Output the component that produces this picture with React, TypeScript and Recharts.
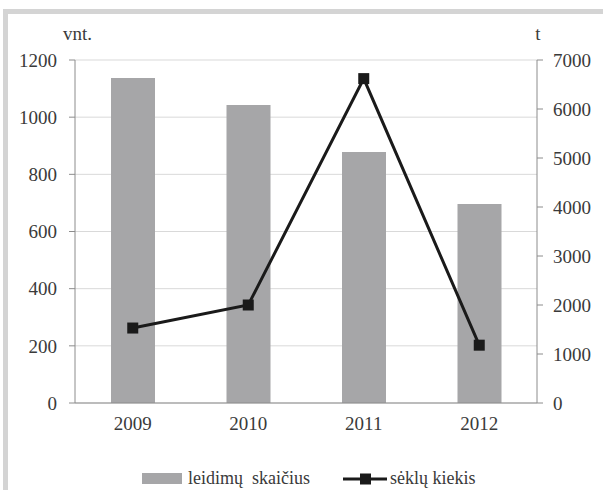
import {
  ComposedChart,
  Bar,
  Line,
  XAxis,
  YAxis,
  CartesianGrid,
  Legend,
} from "recharts";

const years = ["2009", "2010", "2011", "2012"];
const leidimuSkaicius = [1137, 1043, 878, 696];
const lekluKiekis = [1530, 2000, 6620, 1180];
const leftTicks = [0, 200, 400, 600, 800, 1000, 1200];
const rightTicks = [0, 1000, 2000, 3000, 4000, 5000, 6000, 7000];
const boundaryTicks = [0, 1, 2, 3, 4];

const data = years.map((year, i) => ({
  year,
  leidimai: leidimuSkaicius[i],
  seklos: lekluKiekis[i],
}));

const FONT = "'Liberation Serif', 'Times New Roman', serif";
const TEXT = "#3a3a3a";
const AXIS = "#8c8c8c";

const SquareDot = (props: any) => {
  const { cx, cy } = props;
  if (cx == null || cy == null) return null;
  return <rect x={cx - 5.5} y={cy - 5.5} width={11} height={11} fill="#1a1a1a" />;
};

const LegendContent = () => (
  <div
    style={{
      display: "flex",
      alignItems: "center",
      marginLeft: 142,
      fontFamily: FONT,
      fontSize: 18,
      color: TEXT,
    }}
  >
    <span style={{ display: "inline-block", width: 40, height: 11, background: "#a6a6a8" }} />
    <span style={{ marginLeft: 6 }}>leidimų&nbsp; skaičius</span>
    <svg width={44} height={14} style={{ marginLeft: 33 }}>
      <line x1={0} y1={7} x2={44} y2={7} stroke="#1a1a1a" strokeWidth={3} />
      <rect x={17} y={1.5} width={11} height={11} fill="#1a1a1a" />
    </svg>
    <span style={{ marginLeft: 3 }}>sėklų kiekis</span>
  </div>
);

export default function App() {
  return (
    <div
      style={{
        position: "absolute",
        left: 0,
        top: 0,
        width: 603,
        height: 490,
        background: "#fff",
        overflow: "hidden",
      }}
    >
      <div
        style={{
          position: "absolute",
          left: 3,
          top: 9,
          width: 600,
          height: 481,
          borderTop: "5px solid #d4d4d4",
          borderLeft: "5px solid #d4d4d4",
          boxSizing: "border-box",
        }}
      />
      <div style={{ position: "absolute", left: 0, top: 0 }}>
        <ComposedChart
          width={603}
          height={490}
          data={data}
          margin={{ top: 60, right: 0, bottom: 57, left: 0 }}
        >
          <CartesianGrid vertical={false} stroke="#d9d9d9" yAxisId="left" />
          <XAxis
            xAxisId="bounds"
            type="number"
            domain={[0, 4]}
            ticks={boundaryTicks}
            height={0}
            tick={false}
            tickSize={6}
            axisLine={false}
            tickLine={{ stroke: AXIS }}
          />
          <XAxis
            dataKey="year"
            xAxisId="main"
            height={30}
            tickLine={false}
            axisLine={{ stroke: AXIS }}
            tickSize={6}
            tickMargin={8}
            tick={{ fill: TEXT, fontSize: 19, fontFamily: FONT }}
          />
          <YAxis
            yAxisId="left"
            orientation="left"
            width={75}
            domain={[0, 1200]}
            ticks={leftTicks}
            tickSize={6}
            tickMargin={12}
            axisLine={{ stroke: AXIS }}
            tickLine={{ stroke: AXIS }}
            tick={{ fill: TEXT, fontSize: 19, fontFamily: FONT }}
            label={{
              value: "vnt.",
              position: "top",
              offset: 20,
              dx: 40,
              fill: TEXT,
              fontSize: 19,
              fontFamily: FONT,
            }}
          />
          <YAxis
            yAxisId="right"
            orientation="right"
            width={66}
            domain={[0, 7000]}
            ticks={rightTicks}
            tickSize={6}
            tickMargin={10}
            axisLine={{ stroke: AXIS }}
            tickLine={{ stroke: AXIS }}
            tick={{ fill: TEXT, fontSize: 19, fontFamily: FONT }}
            label={{
              value: "t",
              position: "top",
              offset: 20,
              dx: -32,
              fill: TEXT,
              fontSize: 19,
              fontFamily: FONT,
            }}
          />
          <Bar
            dataKey="leidimai"
            xAxisId="main"
            yAxisId="left"
            fill="#a6a6a8"
            barSize={44}
            isAnimationActive={false}
          />
          <Line
            dataKey="seklos"
            xAxisId="main"
            yAxisId="right"
            type="linear"
            stroke="#1a1a1a"
            strokeWidth={3}
            dot={<SquareDot />}
            activeDot={false}
            isAnimationActive={false}
          />
          <Legend
            verticalAlign="middle"
            align="center"
            layout="horizontal"
            content={<LegendContent />}
            wrapperStyle={{ position: "absolute", top: 468, left: 0, width: 603 }}
          />
        </ComposedChart>
      </div>
    </div>
  );
}
